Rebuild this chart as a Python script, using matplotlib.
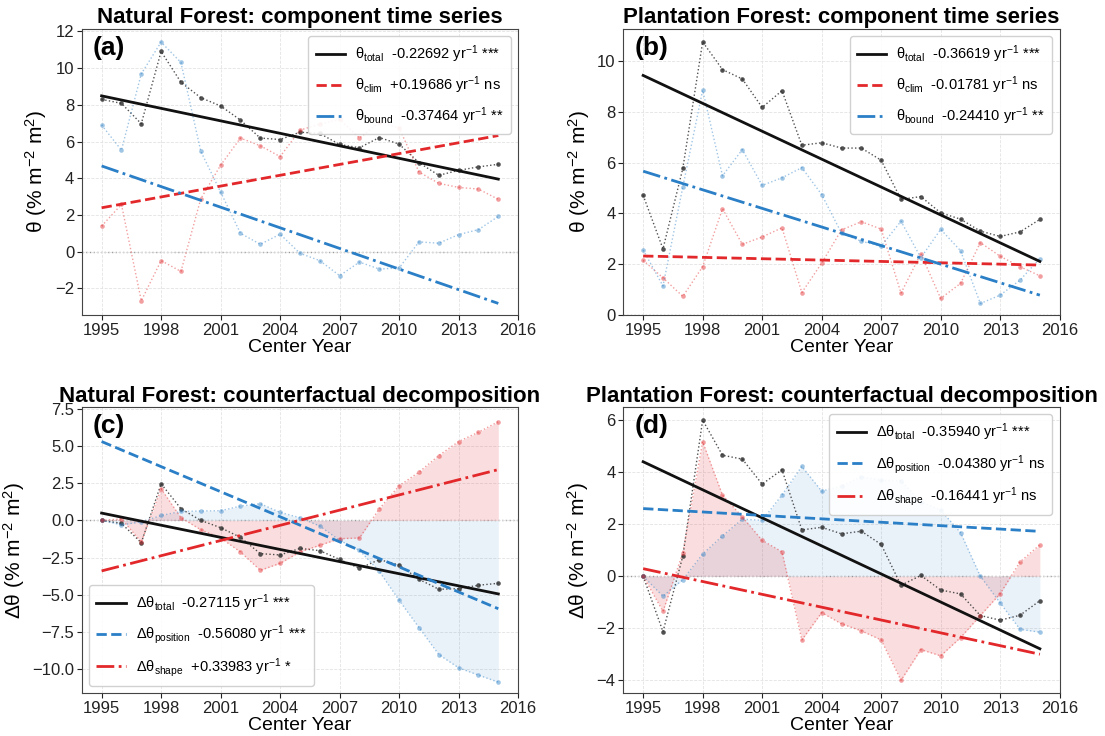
import matplotlib.pyplot as plt
import numpy as np

plt.rcParams["font.family"] = ["Liberation Sans", "DejaVu Sans"]
plt.rcParams["mathtext.fontset"] = "custom"
plt.rcParams["mathtext.rm"] = "Liberation Sans"
plt.rcParams["mathtext.it"] = "Liberation Sans:italic"
plt.rcParams["mathtext.default"] = "regular"

years = np.arange(1995, 2016)

# (a) natural forest components
nat_total = [8.30, 8.08, 6.97, 10.91, 9.23, 8.39, 7.94, 7.17, 6.19, 6.11, 6.51,
             6.44, 5.84, 5.66, 6.22, 5.86, 4.85, 4.16, 4.43, 4.62, 4.76]
nat_clim = [1.39, 2.57, -2.68, -0.49, -1.08, 2.88, 4.71, 6.19, 5.77, 5.18, 6.62,
            6.95, 7.21, 6.19, 7.05, 6.75, 4.34, 3.72, 3.50, 3.41, 2.85]
nat_bound = [6.90, 5.53, 9.69, 11.42, 10.31, 5.47, 3.25, 1.00, 0.40, 0.95, -0.09,
             -0.49, -1.31, -0.57, -0.95, -0.89, 0.53, 0.46, 0.93, 1.20, 1.92]

# (b) plantation forest components
pla_total = [4.71, 2.60, 5.77, 10.75, 9.66, 9.29, 8.17, 8.83, 6.68, 6.78, 6.57,
             6.57, 6.09, 4.55, 4.66, 4.02, 3.77, 3.30, 3.09, 3.27, 3.76]
pla_clim = [2.15, 1.46, 0.73, 1.90, 4.18, 2.78, 3.07, 3.43, 0.88, 2.04, 3.35,
            3.67, 3.38, 0.86, 2.41, 0.65, 1.24, 2.85, 2.31, 1.90, 1.54]
pla_bound = [2.56, 1.14, 5.04, 8.85, 5.48, 6.51, 5.10, 5.40, 5.80, 4.74, 3.22,
             2.90, 2.71, 3.69, 2.25, 3.37, 2.53, 0.45, 0.78, 1.37, 2.22]

# (c) natural forest counterfactual decomposition
nat_d_total = [0.0, -0.20, -1.50, 2.46, 0.78, 0.0, -0.49, -1.14, -2.23, -2.32, -1.88,
               -2.03, -2.62, -3.22, -2.63, -2.99, -3.95, -4.62, -4.58, -4.35, -4.22]
nat_d_pos = [0.0, -0.30, -0.10, 0.33, 0.60, 0.63, 0.65, 0.96, 1.12, 0.54, 0.18,
             -0.38, -1.34, -2.01, -3.42, -5.36, -7.19, -9.00, -9.89, -10.38, -10.85]
nat_d_shape = [0.0, 0.10, -1.45, 2.12, 0.18, -0.63, -1.18, -2.12, -3.35, -2.88, -2.12,
               -1.67, -1.23, -1.18, 0.78, 2.32, 3.24, 4.35, 5.29, 5.92, 6.62]

# (d) plantation forest counterfactual decomposition
pla_d_total = [0.0, -2.13, 0.77, 6.00, 4.65, 4.50, 3.54, 4.09, 1.78, 1.88, 1.63,
               1.73, 1.22, -0.35, 0.03, -0.53, -0.68, -1.51, -1.69, -1.50, -0.94]
pla_d_pos = [0.0, -0.77, -0.13, 0.85, 1.55, 2.19, 2.15, 3.12, 4.22, 3.27, 3.46,
             3.82, 3.69, 3.67, 2.86, 2.54, 1.68, 0.0, -1.03, -2.04, -2.15]
pla_d_shape = [0.0, -1.35, 0.90, 5.17, 3.12, 2.28, 1.38, 0.94, -2.45, -1.40, -1.83,
               -2.10, -2.45, -4.00, -2.82, -3.06, -2.36, -1.51, -0.67, 0.55, 1.21]

# trend slopes (per year), significance and trend value at 1995, as shown
slopes_a = [-0.22692, 0.19686, -0.37464]
sig_a = ["***", "ns", "**"]
start_a = [8.49, 2.39, 4.67]
slopes_b = [-0.36619, -0.01781, -0.24410]
sig_b = ["***", "ns", "**"]
start_b = [9.43, 2.32, 5.66]
slopes_c = [-0.27115, -0.56080, 0.33983]
sig_c = ["***", "***", "*"]
start_c = [0.49, 5.29, -3.39]
slopes_d = [-0.35940, -0.04380, -0.16441]
sig_d = ["***", "ns", "ns"]
start_d = [4.40, 2.60, 0.29]

BLACK = "#111111"
RED = "#e3282b"
BLUE = "#2a7fc6"


def trend(start, slope):
    return start + slope * (years - years[0])


def fmt(slope):
    return f"{slope:+.5f}" if slope > 0 else f"{slope:.5f}"


def draw_points(ax, values, color, alpha):
    ax.plot(years, values, linestyle=":", linewidth=1.0, color=color, alpha=alpha,
            marker="o", markersize=3.3, markeredgewidth=0)


def style(ax, label, title, ylabel, ylim):
    ax.set_xlim(1994, 2016)
    ax.set_ylim(*ylim)
    ax.set_xticks(np.arange(1995, 2017, 3))
    ax.axhline(0, color="#999999", linestyle=":", linewidth=1.0, zorder=0)
    ax.grid(True, linestyle="--", linewidth=0.6, color="#e3e3e3", zorder=0)
    ax.set_axisbelow(True)
    ax.tick_params(labelsize=12, colors="#222222", pad=2)
    for s in ax.spines.values():
        s.set_color("#444444")
    ax.set_xlabel("Center Year", fontsize=14, labelpad=1)
    ax.set_ylabel(ylabel, fontsize=15, labelpad=4)
    ax.set_title(title, fontsize=16, fontweight="bold", pad=4)
    ax.text(0.025, 0.975, label, transform=ax.transAxes, fontsize=19,
            fontweight="bold", va="top", ha="left")


def add_legend(ax, loc):
    ax.legend(loc=loc, fontsize=10.5, framealpha=0.9, edgecolor="#cccccc",
              handlelength=2.0, borderpad=0.5, labelspacing=0.65, handletextpad=0.7)


def component_panel(ax, total, clim, bound, slopes, sig, starts, label, title, ylim):
    draw_points(ax, total, "#333333", 0.85)
    draw_points(ax, clim, RED, 0.45)
    draw_points(ax, bound, BLUE, 0.45)
    names = ["total", "clim", "bound"]
    styles = [("-", BLACK), ("--", RED), ("-.", BLUE)]
    for slope, s, st, name, (ls, col) in zip(slopes, sig, starts, names, styles):
        ax.plot(years, trend(st, slope), linestyle=ls, color=col, linewidth=2,
                label=f"θ$_{{{name}}}$  {fmt(slope)} yr$^{{-1}}$ {s}")
    style(ax, label, title, "θ (% m$^{-2}$ m$^{2}$)", ylim)
    add_legend(ax, "upper right")


def decomposition_panel(ax, total, pos, shape, slopes, sig, starts, label, title, ylim, loc):
    ax.fill_between(years, 0, pos, color=BLUE, alpha=0.1, linewidth=0)
    ax.fill_between(years, 0, shape, color=RED, alpha=0.15, linewidth=0)
    draw_points(ax, total, "#333333", 0.85)
    draw_points(ax, pos, BLUE, 0.45)
    draw_points(ax, shape, RED, 0.45)
    names = ["total", "position", "shape"]
    styles = [("-", BLACK), ("--", BLUE), ("-.", RED)]
    for slope, s, st, name, (ls, col) in zip(slopes, sig, starts, names, styles):
        ax.plot(years, trend(st, slope), linestyle=ls, color=col, linewidth=2,
                label=f"Δθ$_{{{name}}}$  {fmt(slope)} yr$^{{-1}}$ {s}")
    style(ax, label, title, "Δθ (% m$^{-2}$ m$^{2}$)", ylim)
    add_legend(ax, loc)


fig, axes = plt.subplots(2, 2, figsize=(11.05, 7.36), dpi=100)
fig.subplots_adjust(left=0.074, right=0.959, bottom=0.058, top=0.961,
                    wspace=0.241, hspace=0.322)

component_panel(axes[0, 0], nat_total, nat_clim, nat_bound, slopes_a, sig_a, start_a,
                "(a)", "Natural Forest: component time series", (-3.45, 12.15))
component_panel(axes[0, 1], pla_total, pla_clim, pla_bound, slopes_b, sig_b, start_b,
                "(b)", "Plantation Forest: component time series", (0, 11.27))
decomposition_panel(axes[1, 0], nat_d_total, nat_d_pos, nat_d_shape, slopes_c, sig_c,
                    start_c, "(c)", "Natural Forest: counterfactual decomposition",
                    (-11.6, 7.6), "lower left")
decomposition_panel(axes[1, 1], pla_d_total, pla_d_pos, pla_d_shape, slopes_d, sig_d,
                    start_d, "(d)", "Plantation Forest: counterfactual decomposition",
                    (-4.5, 6.5), "upper right")

fig.savefig("out.png", dpi=100)
